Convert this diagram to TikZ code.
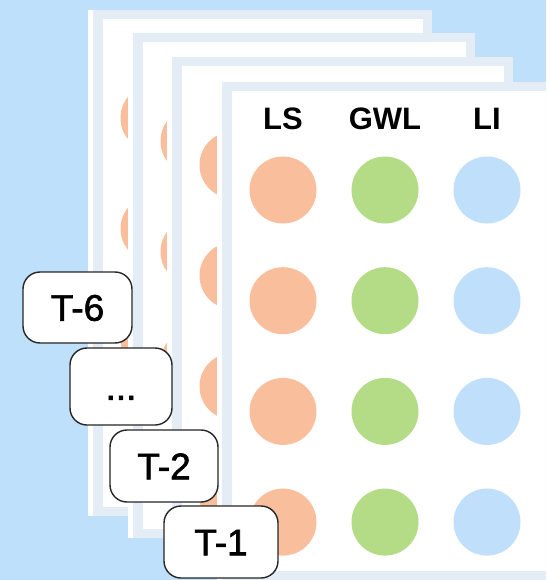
\documentclass[tikz,border=0pt]{standalone}
\usepackage{fontspec}
\setmainfont{Liberation Sans}
\newfontfamily\tlab[FakeBold=1.6]{Liberation Sans}
\definecolor{bgc}{RGB}{190,224,251}
\definecolor{framec}{RGB}{228,237,246}
\definecolor{lsc}{RGB}{249,190,156}
\definecolor{gwlc}{RGB}{180,220,135}
\definecolor{lic}{RGB}{191,223,250}
\begin{document}
\begin{tikzpicture}[x=1pt,y=-1pt,
  dot/.style={circle,inner sep=0pt,minimum size=67pt,draw=none},
  head/.style={font=\fontsize{31}{34}\selectfont\bfseries,inner sep=0pt,text height=22pt,text depth=0pt},
  tbox/.style={draw=black!85,line width=1.4pt,fill=white,rounded corners=17pt,inner sep=0pt,
    font=\tlab\fontsize{37}{40}\selectfont,text height=26.5pt,text depth=0pt}]
\clip (0,0) rectangle (546,580);
\fill[bgc] (0,0) rectangle (546,580);
% back sheets
\foreach \L/\T/\R/\B/\n in {88/10/432/516/1,128/33/475/538/2,167/57/513/560/3}{
  \fill[white!97!framec] (\L,\T) rectangle (\R,\B);
  \fill[framec] (\L+5,\T) rectangle (\R,\B);
  \fill[white] (\L+15,\T+9) rectangle (\R-9,\B-9);
  \foreach \r in {0,1,2,3}{
    \node[dot,fill=lsc] (s\n ls\r) at (\L+66,\T+108+\r*110.7) {};
    \node[dot,fill=gwlc] (s\n gwl\r) at (\L+168,\T+108+\r*110.7) {};
    \node[dot,fill=lic] (s\n li\r) at (\L+270,\T+108+\r*110.7) {};
  }
}
% front sheet
\fill[white!97!framec] (217,82) rectangle (563,580);
\fill[framec] (222,82) rectangle (563,580);
\fill[white] (232,91) rectangle (554,571);
\node[head] (hls) at (283,119) {LS};
\node[head] (hgwl) at (385,119) {GWL};
\node[head] (hli) at (487,119) {LI};
\foreach \r in {0,1,2,3}{
  \node[dot,fill=lsc] (ls\r) at (283,190+\r*110.7) {};
  \node[dot,fill=gwlc] (gwl\r) at (385,190+\r*110.7) {};
  \node[dot,fill=lic] (li\r) at (487,190+\r*110.7) {};
}
% time labels
\node[tbox,minimum width=109pt,minimum height=71pt] (t6) at (77.5,307.5) {T-6};
\node[tbox,minimum width=102pt,minimum height=77pt] (tdots) at (121,386.5) {...};
\node[tbox,minimum width=108pt,minimum height=72pt] (t2) at (164,466) {T-2};
\node[tbox,minimum width=114pt,minimum height=72pt] (t1) at (221,542) {T-1};
\end{tikzpicture}
\end{document}
